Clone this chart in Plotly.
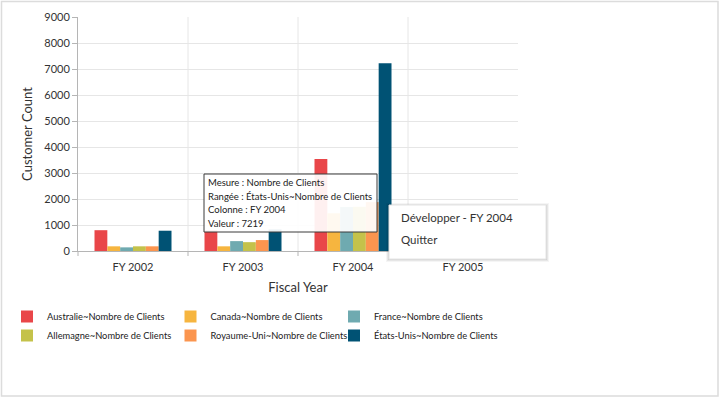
import plotly.graph_objects as go

categories = ["FY 2002", "FY 2003", "FY 2004", "FY 2005"]
series_names = [
    "Australie~Nombre de Clients",
    "Canada~Nombre de Clients",
    "France~Nombre de Clients",
    "Allemagne~Nombre de Clients",
    "Royaume-Uni~Nombre de Clients",
    "États-Unis~Nombre de Clients",
]
australie = [800, 800, 3540, 20]
canada = [180, 180, 1450, 10]
france = [140, 380, 1690, 8]
allemagne = [180, 340, 1700, 8]
royaume_uni = [180, 420, 1880, 10]
etats_unis = [780, 830, 7219, 30]
colors = ["#E94649", "#F6B53F", "#6FAAB0", "#C4C24A", "#FB954F", "#005274"]
y_ticks = [0, 1000, 2000, 3000, 4000, 5000, 6000, 7000, 8000, 9000]

tooltip_lines = ["Mesure : Nombre de Clients", "Rangée : États-Unis~Nombre de Clients",
                 "Colonne : FY 2004", "Valeur : 7219"]
menu_items = ["Développer - FY 2004", "Quitter"]

FONT = "Lato"
W, H = 720, 398
L, R, T, B = 78, 518, 17, 251


def px(x):
    return (x - L) / (R - L)


def py(y):
    return (B - y) / (B - T)


fig = go.Figure()
all_vals = [australie, canada, france, allemagne, royaume_uni, etats_unis]
for name, vals, col in zip(series_names, all_vals, colors):
    fig.add_trace(go.Bar(x=categories, y=vals, name=name, marker_color=col,
                         marker_line_width=0, hoverinfo="skip"))

shapes = []
annotations = []
# outer border
shapes.append(dict(type="rect", xref="paper", yref="paper",
                   x0=px(1.5), x1=px(718), y0=py(1.5), y1=py(396),
                   line=dict(color="#dcdcdc", width=1.5), fillcolor="rgba(0,0,0,0)", layer="below"))
# vertical gridlines at category boundaries and axis tick marks
for b in [0.5, 1.5, 2.5]:
    shapes.append(dict(type="line", xref="x", yref="paper", x0=b, x1=b, y0=0, y1=1,
                       line=dict(color="#e6e6e6", width=1), layer="below"))
    shapes.append(dict(type="line", xref="x", yref="paper", x0=b, x1=b, y0=0, y1=py(256),
                       line=dict(color="#b5b5b5", width=1), layer="below"))
for xp in [0, 1]:
    shapes.append(dict(type="line", xref="paper", yref="paper", x0=xp, x1=xp, y0=0, y1=py(256),
                       line=dict(color="#b5b5b5", width=1), layer="below"))
# tooltip
shapes.append(dict(type="rect", xref="paper", yref="paper",
                   x0=px(204), x1=px(377), y0=py(174), y1=py(232),
                   line=dict(color="#3a3a3a", width=1), fillcolor="rgba(255,255,255,0.92)", layer="above"))
for i, t in enumerate(tooltip_lines):
    annotations.append(dict(xref="paper", yref="paper", x=px(206), y=py(183 + i * 13.4),
                            text=t, showarrow=False, xanchor="left", yanchor="middle",
                            font=dict(family=FONT, size=9.5, color="#222")))
# context menu shadow + box
for k, a in enumerate([0.04, 0.06, 0.08]):
    d = 3 - k
    shapes.append(dict(type="rect", xref="paper", yref="paper",
                       x0=px(389 - d), x1=px(546 + d), y0=py(205 - d + 1), y1=py(259 + d),
                       line=dict(width=0), fillcolor=f"rgba(0,0,0,{a})", layer="above"))
shapes.append(dict(type="rect", xref="paper", yref="paper",
                   x0=px(389), x1=px(546), y0=py(205), y1=py(259),
                   line=dict(color="#e4e4e4", width=1), fillcolor="white", layer="above"))
for i, t in enumerate(menu_items):
    annotations.append(dict(xref="paper", yref="paper", x=px(399), y=py(217 + i * 22.5),
                            text=t, showarrow=False, xanchor="left", yanchor="middle",
                            font=dict(family=FONT, size=11.5, color="#333")))

fig.update_layout(
    width=W, height=H,
    margin=dict(l=L, r=W - R, t=T, b=H - B, autoexpand=False),
    paper_bgcolor="white", plot_bgcolor="white",
    barmode="group", bargap=0.3, bargroupgap=0,
    font=dict(family=FONT, size=11, color="#333"),
    showlegend=True,
    legend=dict(orientation="h", x=px(7), xanchor="left", y=py(302), yanchor="top",
                entrywidth=118.5, entrywidthmode="pixels", traceorder="normal",
                font=dict(family=FONT, size=9.3, color="#222"), itemclick=False,
                itemdoubleclick=False),
    xaxis=dict(title=dict(text="Fiscal Year", font=dict(size=13, color="#333"), standoff=10),
               showgrid=False, showline=True, linecolor="#b5b5b5", linewidth=1,
               ticks="", ticklabelstandoff=6, range=[-0.5, 3.5],
               tickfont=dict(size=11, color="#333"), fixedrange=True),
    yaxis=dict(title=dict(text="Customer Count", font=dict(size=13, color="#333"), standoff=8),
               range=[0, 9000], tickvals=y_ticks, showgrid=True, gridcolor="#e6e6e6",
               showline=True, linecolor="#b5b5b5", linewidth=1, zeroline=False,
               ticks="outside", ticklen=5, tickcolor="#b5b5b5",
               tickfont=dict(size=11, color="#333"), fixedrange=True),
    shapes=shapes, annotations=annotations,
)

fig.write_html("out.html", config={"displayModeBar": False},
               post_script="document.body.style.margin='0';")
